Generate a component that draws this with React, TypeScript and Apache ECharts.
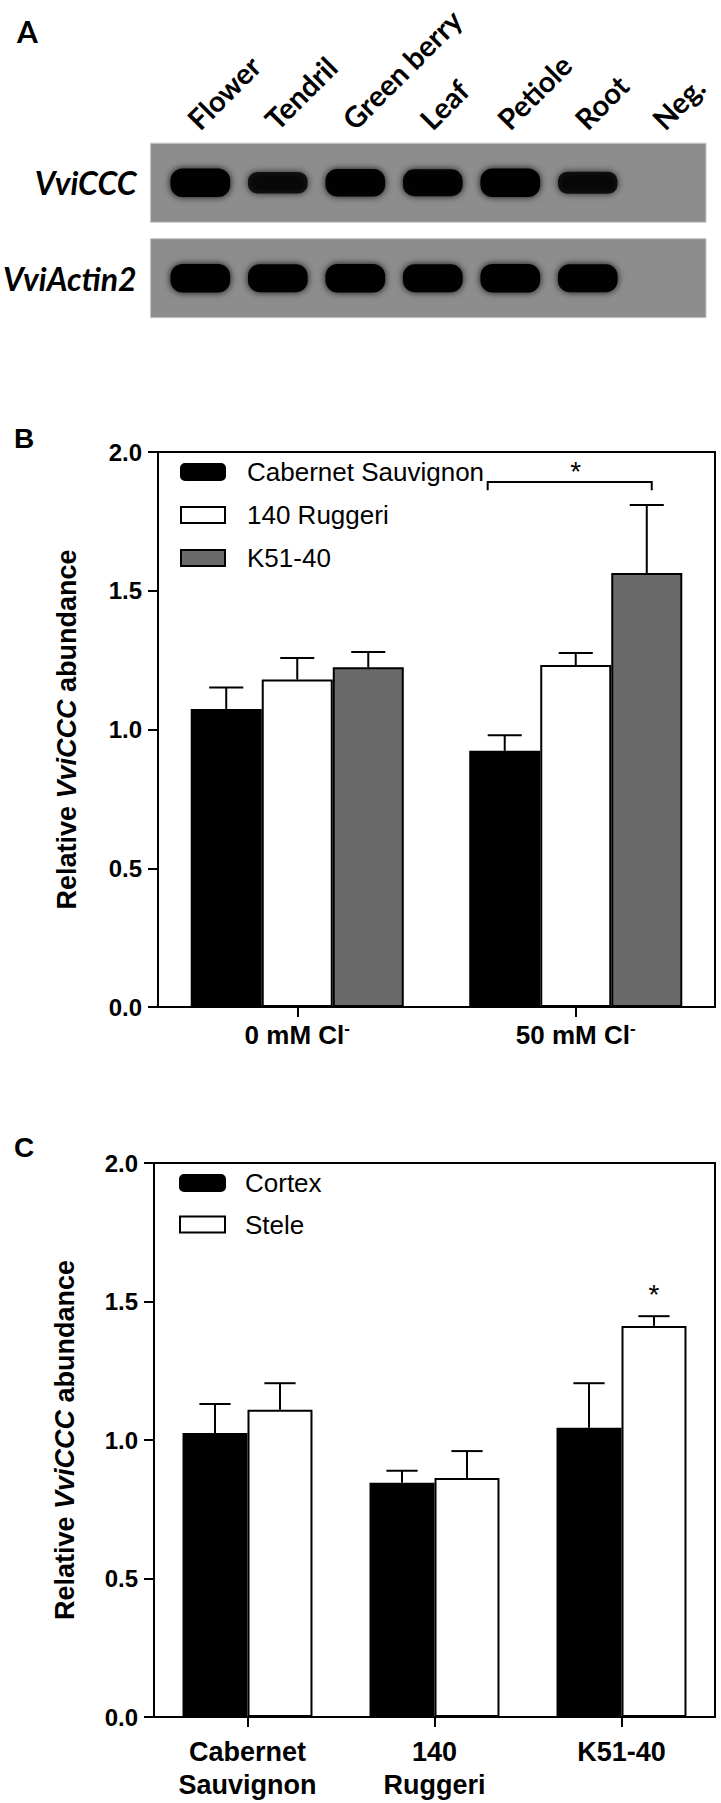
import React, { useEffect, useRef } from 'react';
import * as echarts from 'echarts';

const FONT = '"Liberation Sans", Arial, Helvetica, sans-serif';
const GEL_FONT = 'Lato, "Liberation Sans", sans-serif';

// ---------- Panel A (RT-PCR gel) ----------
const laneNames = ['Flower', 'Tendril', 'Green berry', 'Leaf', 'Petiole', 'Root', 'Neg.'];
const geneNames = ['VviCCC', 'VviActin2'];
const vviCCCBand = [1.0, 0.72, 0.95, 0.93, 1.0, 0.74, 0];
const vviActin2Band = [1.0, 0.97, 1.0, 0.98, 1.0, 0.97, 0];

// ---------- Panel B ----------
const treatments = ['0 mM Cl', '50 mM Cl'];
const cabernetB = [1.074, 0.923];
const cabernetBErr = [0.077, 0.056];
const ruggeriB = [1.18, 1.232];
const ruggeriBErr = [0.078, 0.044];
const k5140B = [1.224, 1.564];
const k5140BErr = [0.055, 0.245];
// bracket: [category, start (bar units), end (bar units), y, y of drop]
const bracketB = [[1, -0.24, 2.07, 1.892, 1.862]];
const starB = [[1, 1, 1.953]];

// ---------- Panel C ----------
const genotypesC = ['Cabernet\nSauvignon', '140\nRuggeri', 'K51-40'];
const cortexC = [1.025, 0.846, 1.044];
const cortexCErr = [0.105, 0.043, 0.161];
const steleC = [1.109, 0.863, 1.412];
const steleCErr = [0.096, 0.097, 0.035];
const starC = [[2, 1, 1.547]];

const GAP_B = 0.235;
const GAP_C = 0.305;

function barX(api: any, cat: number, pos: number, n: number, gap: number) {
  const c = api.coord([cat, 0]);
  const band = api.size([1, 0])[0];
  const bw = (band * (1 - gap)) / n;
  return { x: c[0] + (pos - (n - 1) / 2) * bw, bw };
}

function errorRender(n: number, gap: number) {
  return (params: any, api: any) => {
    const cat = api.value(0);
    const k = api.value(1);
    const v = api.value(2);
    const top = api.value(3);
    const { x, bw } = barX(api, cat, k, n, gap);
    const y0 = api.coord([cat, v])[1];
    const y1 = api.coord([cat, top])[1];
    const half = bw * 0.24;
    const st = { stroke: '#000', lineWidth: 2, fill: 'none' };
    return {
      type: 'group',
      children: [
        { type: 'line', shape: { x1: x, y1: y0, x2: x, y2: y1 }, style: st },
        { type: 'line', shape: { x1: x - half, y1: y1, x2: x + half, y2: y1 }, style: st },
      ],
    };
  };
}

function errData(vals: number[], errs: number[], k: number) {
  return vals.map((v, i) => [i, k, v, v + errs[i]]);
}

function starRender(n: number, gap: number) {
  return (params: any, api: any) => {
    const cat = api.value(0);
    const { x } = barX(api, cat, api.value(1), n, gap);
    const y = api.coord([cat, api.value(2)])[1];
    return {
      type: 'text',
      style: {
        text: '*',
        x,
        y: y + 6,
        align: 'center',
        verticalAlign: 'middle',
        font: `28px ${FONT}`,
        fill: '#000',
      },
    };
  };
}

function bracketRender(n: number, gap: number) {
  return (params: any, api: any) => {
    const cat = api.value(0);
    const a = barX(api, cat, api.value(1), n, gap).x;
    const b = barX(api, cat, api.value(2), n, gap).x;
    const y = api.coord([cat, api.value(3)])[1];
    const yd = api.coord([cat, api.value(4)])[1];
    return {
      type: 'polyline',
      shape: { points: [[a, yd], [a, y], [b, y], [b, yd]] },
      style: { stroke: '#000', lineWidth: 2, fill: 'none' },
    };
  };
}

function gelRender(params: any, api: any) {
  const row = api.value(1);
  const c = api.coord([0, row]);
  const bh = api.size([0, 1])[1];
  const cs = params.coordSys;
  return {
    type: 'rect',
    shape: { x: cs.x - 11, y: c[1] - bh * 0.414, width: cs.width + 13, height: bh * 0.827 },
    style: { fill: '#8d8d8d', stroke: '#c4c4c4', lineWidth: 1 },
  };
}

function bandRender(params: any, api: any) {
  const lane = api.value(0);
  const row = api.value(1);
  const inten = api.value(2);
  if (!inten) return null;
  const c = api.coord([lane, row]);
  const bw = api.size([1, 0])[0];
  const bh = api.size([0, 1])[1];
  const w = bw * 0.77;
  const h = bh * (0.3 - (1 - inten) * 0.27);
  return {
    type: 'rect',
    shape: { x: c[0] - w / 2, y: c[1] - h / 2, width: w, height: h, r: h * 0.42 },
    style: {
      fill: '#000',
      opacity: 0.3 + 0.7 * inten,
      shadowBlur: 7,
      shadowColor: 'rgba(0,0,0,0.9)',
    },
  };
}

function laneLabelRender(params: any, api: any) {
  const lane = api.value(0);
  const c = api.coord([lane, 0]);
  const bh = api.size([0, 1])[1];
  return {
    type: 'text',
    x: c[0] + 2,
    y: c[1] - bh / 2 - 1,
    rotation: Math.PI / 4,
    style: {
      text: laneNames[lane],
      align: 'left',
      verticalAlign: 'bottom',
      font: `bold 29px ${GEL_FONT}`,
      fill: '#000',
    },
  };
}

const axisLineStyle = { lineStyle: { color: '#000', width: 2 } };
const tickLabelStyle = {
  color: '#000',
  fontSize: 24,
  fontWeight: 'bold',
  fontFamily: FONT,
};

function valueAxis(gridIndex: number, nameGap: number) {
  return {
    type: 'value',
    gridIndex,
    min: 0,
    max: 2,
    interval: 0.5,
    axisLine: { show: true, ...axisLineStyle },
    axisTick: { show: true, length: 10, ...axisLineStyle },
    splitLine: { show: false },
    axisLabel: { ...tickLabelStyle, margin: 16, formatter: (v: number) => v.toFixed(1) },
    name: 'Relative {i|VviCCC} abundance',
    nameLocation: 'middle',
    nameRotate: 90,
    nameGap,
    nameTextStyle: {
      color: '#000',
      fontSize: 27,
      fontWeight: 'bold',
      fontFamily: FONT,
      rich: {
        i: { fontSize: 27, fontWeight: 'bold', fontStyle: 'italic', fontFamily: FONT, color: '#000' },
      },
    },
  };
}

export default function App() {
  const ref = useRef<HTMLDivElement>(null);

  useEffect(() => {
    document.body.style.margin = '0';
    if (!ref.current) return;
    const chart = echarts.init(ref.current, undefined, { renderer: 'svg' });

    const barBase = { type: 'bar', barGap: '0%' };
    const option: any = {
      animation: false,
      backgroundColor: '#fff',
      graphic: [
        { type: 'text', left: 17, top: 16, style: { text: 'A', font: `bold 30px ${GEL_FONT}`, fill: '#000' } },
        { type: 'text', left: 14, top: 424, style: { text: 'B', font: `bold 28px ${FONT}`, fill: '#000' } },
        { type: 'text', left: 14, top: 1133, style: { text: 'C', font: `bold 28px ${FONT}`, fill: '#000' } },
      ],
      legend: [
        {
          orient: 'vertical',
          left: 180,
          top: 459,
          padding: 0,
          itemWidth: 44,
          itemHeight: 16,
          itemGap: 17,
          selectedMode: false,
          itemStyle: { borderColor: '#000', borderWidth: 2 },
          textStyle: { fontSize: 26, fontFamily: FONT, color: '#000', padding: [0, 0, 0, 17] },
          data: [
            { name: 'Cabernet Sauvignon', icon: 'roundRect' },
            { name: '140 Ruggeri', icon: 'rect' },
            { name: 'K51-40', icon: 'rect' },
          ],
        },
        {
          orient: 'vertical',
          left: 179,
          top: 1170,
          padding: 0,
          itemWidth: 45,
          itemHeight: 16,
          itemGap: 15.5,
          selectedMode: false,
          itemStyle: { borderColor: '#000', borderWidth: 2 },
          textStyle: { fontSize: 26, fontFamily: FONT, color: '#000', padding: [0, 0, 0, 15] },
          data: [
            { name: 'Cortex', icon: 'roundRect' },
            { name: 'Stele', icon: 'rect' },
          ],
        },
      ],
      grid: [
        { left: 160, right: 17, top: 135, bottom: 1477, show: false },
        { left: 158, right: 6, top: 452, bottom: 796, show: true, borderColor: '#000', borderWidth: 2 },
        { left: 154, right: 6, top: 1163, bottom: 86, show: true, borderColor: '#000', borderWidth: 2 },
      ],
      xAxis: [
        {
          type: 'category',
          gridIndex: 0,
          position: 'top',
          data: laneNames,
          axisLine: { show: false },
          axisTick: { show: false },
          axisLabel: { show: false },
        },
        {
          type: 'category',
          gridIndex: 1,
          data: treatments,
          axisLine: axisLineStyle,
          axisTick: { show: true, alignWithLabel: true, length: 10, ...axisLineStyle },
          axisLabel: {
            margin: 13,
            interval: 0,
            formatter: (v: string) => `{a|${v}}{s|-}`,
            rich: {
              a: { ...tickLabelStyle, fontSize: 26, lineHeight: 30 },
              s: { fontSize: 17, fontWeight: 'bold', fontFamily: FONT, color: '#000', verticalAlign: 'top' },
            },
          },
        },
        {
          type: 'category',
          gridIndex: 2,
          data: genotypesC,
          axisLine: axisLineStyle,
          axisTick: { show: true, alignWithLabel: true, length: 10, ...axisLineStyle },
          axisLabel: { ...tickLabelStyle, fontSize: 27, lineHeight: 32.5, margin: 19, interval: 0 },
        },
      ],
      yAxis: [
        {
          type: 'category',
          gridIndex: 0,
          data: geneNames,
          inverse: true,
          axisLine: { show: false },
          axisTick: { show: false },
          axisLabel: {
            margin: 25,
            color: '#000',
            fontSize: 32,
            fontWeight: 'bold',
            fontStyle: 'italic',
            fontFamily: GEL_FONT,
          },
        },
        valueAxis(1, 78),
        valueAxis(2, 76),
      ],
      series: [
        // Panel A
        {
          type: 'custom',
          name: 'gel',
          xAxisIndex: 0,
          yAxisIndex: 0,
          renderItem: gelRender,
          data: geneNames.map((g, i) => [0, i]),
          silent: true,
        },
        {
          type: 'custom',
          name: 'bands',
          xAxisIndex: 0,
          yAxisIndex: 0,
          renderItem: bandRender,
          data: [
            ...vviCCCBand.map((v, i) => [i, 0, v]),
            ...vviActin2Band.map((v, i) => [i, 1, v]),
          ],
          silent: true,
        },
        {
          type: 'custom',
          name: 'laneLabels',
          xAxisIndex: 0,
          yAxisIndex: 0,
          renderItem: laneLabelRender,
          data: laneNames.map((n, i) => [i, 0]),
          silent: true,
        },
        // Panel B
        {
          ...barBase,
          name: 'Cabernet Sauvignon',
          xAxisIndex: 1,
          yAxisIndex: 1,
          barCategoryGap: GAP_B * 100 + '%',
          data: cabernetB,
          itemStyle: { color: '#000', borderColor: '#000', borderWidth: 2 },
        },
        {
          ...barBase,
          name: '140 Ruggeri',
          xAxisIndex: 1,
          yAxisIndex: 1,
          barCategoryGap: GAP_B * 100 + '%',
          data: ruggeriB,
          itemStyle: { color: '#fff', borderColor: '#000', borderWidth: 2 },
        },
        {
          ...barBase,
          name: 'K51-40',
          xAxisIndex: 1,
          yAxisIndex: 1,
          barCategoryGap: GAP_B * 100 + '%',
          data: k5140B,
          itemStyle: { color: '#6a6a6a', borderColor: '#000', borderWidth: 2 },
        },
        {
          type: 'custom',
          name: 'errB',
          xAxisIndex: 1,
          yAxisIndex: 1,
          renderItem: errorRender(3, GAP_B),
          encode: { x: 0, y: [2, 3] },
          data: [
            ...errData(cabernetB, cabernetBErr, 0),
            ...errData(ruggeriB, ruggeriBErr, 1),
            ...errData(k5140B, k5140BErr, 2),
          ],
          z: 3,
        },
        {
          type: 'custom',
          name: 'bracketB',
          xAxisIndex: 1,
          yAxisIndex: 1,
          renderItem: bracketRender(3, GAP_B),
          encode: { x: 0, y: 3 },
          data: bracketB,
          z: 3,
        },
        {
          type: 'custom',
          name: 'starB',
          xAxisIndex: 1,
          yAxisIndex: 1,
          renderItem: starRender(3, GAP_B),
          encode: { x: 0, y: 2 },
          data: starB,
          z: 3,
        },
        // Panel C
        {
          ...barBase,
          name: 'Cortex',
          xAxisIndex: 2,
          yAxisIndex: 2,
          barCategoryGap: GAP_C * 100 + '%',
          data: cortexC,
          itemStyle: { color: '#000', borderColor: '#000', borderWidth: 2 },
        },
        {
          ...barBase,
          name: 'Stele',
          xAxisIndex: 2,
          yAxisIndex: 2,
          barCategoryGap: GAP_C * 100 + '%',
          data: steleC,
          itemStyle: { color: '#fff', borderColor: '#000', borderWidth: 2 },
        },
        {
          type: 'custom',
          name: 'errC',
          xAxisIndex: 2,
          yAxisIndex: 2,
          renderItem: errorRender(2, GAP_C),
          encode: { x: 0, y: [2, 3] },
          data: [...errData(cortexC, cortexCErr, 0), ...errData(steleC, steleCErr, 1)],
          z: 3,
        },
        {
          type: 'custom',
          name: 'starC',
          xAxisIndex: 2,
          yAxisIndex: 2,
          renderItem: starRender(2, GAP_C),
          encode: { x: 0, y: 2 },
          data: starC,
          z: 3,
        },
      ],
    };

    chart.setOption(option);
    return () => chart.dispose();
  }, []);

  return <div ref={ref} style={{ width: 721, height: 1803 }} />;
}
